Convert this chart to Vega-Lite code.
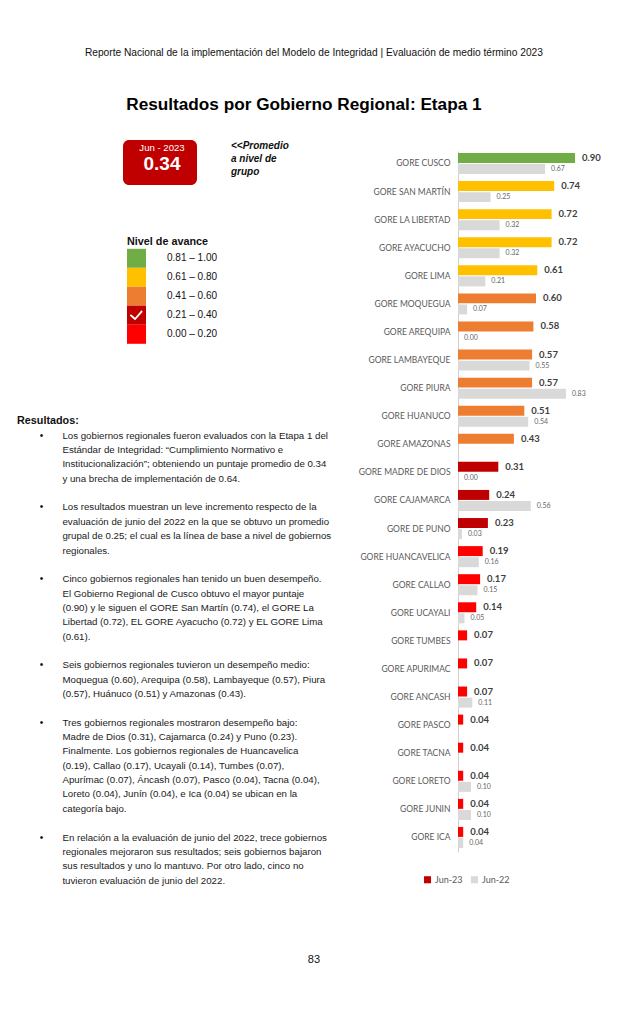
{
  "$schema": "https://vega.github.io/schema/vega-lite/v6.json",
  "background": "white",
  "padding": {"left": 17, "top": 47, "right": 0, "bottom": 0},
  "config": {"view": {"stroke": null}, "font": "Liberation Sans"},
  "datasets": {
    "gore": [
      {"gore": "GORE CUSCO", "serie": "Jun-23", "valor": 0.90, "nivel": "0.81 – 1.00"},
      {"gore": "GORE CUSCO", "serie": "Jun-22", "valor": 0.67},
      {"gore": "GORE SAN MARTÍN", "serie": "Jun-23", "valor": 0.74, "nivel": "0.61 – 0.80"},
      {"gore": "GORE SAN MARTÍN", "serie": "Jun-22", "valor": 0.25},
      {"gore": "GORE LA LIBERTAD", "serie": "Jun-23", "valor": 0.72, "nivel": "0.61 – 0.80"},
      {"gore": "GORE LA LIBERTAD", "serie": "Jun-22", "valor": 0.32},
      {"gore": "GORE AYACUCHO", "serie": "Jun-23", "valor": 0.72, "nivel": "0.61 – 0.80"},
      {"gore": "GORE AYACUCHO", "serie": "Jun-22", "valor": 0.32},
      {"gore": "GORE LIMA", "serie": "Jun-23", "valor": 0.61, "nivel": "0.61 – 0.80"},
      {"gore": "GORE LIMA", "serie": "Jun-22", "valor": 0.21},
      {"gore": "GORE MOQUEGUA", "serie": "Jun-23", "valor": 0.60, "nivel": "0.41 – 0.60"},
      {"gore": "GORE MOQUEGUA", "serie": "Jun-22", "valor": 0.07},
      {"gore": "GORE AREQUIPA", "serie": "Jun-23", "valor": 0.58, "nivel": "0.41 – 0.60"},
      {"gore": "GORE AREQUIPA", "serie": "Jun-22", "valor": 0.00},
      {"gore": "GORE LAMBAYEQUE", "serie": "Jun-23", "valor": 0.57, "nivel": "0.41 – 0.60"},
      {"gore": "GORE LAMBAYEQUE", "serie": "Jun-22", "valor": 0.55},
      {"gore": "GORE PIURA", "serie": "Jun-23", "valor": 0.57, "nivel": "0.41 – 0.60"},
      {"gore": "GORE PIURA", "serie": "Jun-22", "valor": 0.83},
      {"gore": "GORE HUANUCO", "serie": "Jun-23", "valor": 0.51, "nivel": "0.41 – 0.60"},
      {"gore": "GORE HUANUCO", "serie": "Jun-22", "valor": 0.54},
      {"gore": "GORE AMAZONAS", "serie": "Jun-23", "valor": 0.43, "nivel": "0.41 – 0.60"},
      {"gore": "GORE MADRE DE DIOS", "serie": "Jun-23", "valor": 0.31, "nivel": "0.21 – 0.40"},
      {"gore": "GORE MADRE DE DIOS", "serie": "Jun-22", "valor": 0.00},
      {"gore": "GORE CAJAMARCA", "serie": "Jun-23", "valor": 0.24, "nivel": "0.21 – 0.40"},
      {"gore": "GORE CAJAMARCA", "serie": "Jun-22", "valor": 0.56},
      {"gore": "GORE DE PUNO", "serie": "Jun-23", "valor": 0.23, "nivel": "0.21 – 0.40"},
      {"gore": "GORE DE PUNO", "serie": "Jun-22", "valor": 0.03},
      {"gore": "GORE HUANCAVELICA", "serie": "Jun-23", "valor": 0.19, "nivel": "0.00 – 0.20"},
      {"gore": "GORE HUANCAVELICA", "serie": "Jun-22", "valor": 0.16},
      {"gore": "GORE CALLAO", "serie": "Jun-23", "valor": 0.17, "nivel": "0.00 – 0.20"},
      {"gore": "GORE CALLAO", "serie": "Jun-22", "valor": 0.15},
      {"gore": "GORE UCAYALI", "serie": "Jun-23", "valor": 0.14, "nivel": "0.00 – 0.20"},
      {"gore": "GORE UCAYALI", "serie": "Jun-22", "valor": 0.05},
      {"gore": "GORE TUMBES", "serie": "Jun-23", "valor": 0.07, "nivel": "0.00 – 0.20"},
      {"gore": "GORE APURIMAC", "serie": "Jun-23", "valor": 0.07, "nivel": "0.00 – 0.20"},
      {"gore": "GORE ANCASH", "serie": "Jun-23", "valor": 0.07, "nivel": "0.00 – 0.20"},
      {"gore": "GORE ANCASH", "serie": "Jun-22", "valor": 0.11},
      {"gore": "GORE PASCO", "serie": "Jun-23", "valor": 0.04, "nivel": "0.00 – 0.20"},
      {"gore": "GORE TACNA", "serie": "Jun-23", "valor": 0.04, "nivel": "0.00 – 0.20"},
      {"gore": "GORE LORETO", "serie": "Jun-23", "valor": 0.04, "nivel": "0.00 – 0.20"},
      {"gore": "GORE LORETO", "serie": "Jun-22", "valor": 0.10},
      {"gore": "GORE JUNIN", "serie": "Jun-23", "valor": 0.04, "nivel": "0.00 – 0.20"},
      {"gore": "GORE JUNIN", "serie": "Jun-22", "valor": 0.10},
      {"gore": "GORE ICA", "serie": "Jun-23", "valor": 0.04, "nivel": "0.00 – 0.20"},
      {"gore": "GORE ICA", "serie": "Jun-22", "valor": 0.04}
    ],
    "caja": [
      {"linea": 0, "texto": "Jun - 2023"},
      {"linea": 1, "texto": "0.34"}
    ],
    "promedio": [
      {"linea": 0, "sangria": 0, "texto": "<<Promedio"},
      {"linea": 1, "sangria": 0, "texto": "a nivel de"},
      {"linea": 2, "sangria": 0, "texto": "grupo"}
    ],
    "texto": [
      {"linea": -1, "sangria": 0, "tipo": "titulo", "texto": "Resultados:"},
      {"linea": 0, "sangria": 1, "tipo": "vineta", "texto": "•"},
      {"linea": 0, "sangria": 2, "tipo": "cuerpo", "texto": "Los gobiernos regionales fueron evaluados con la Etapa 1 del"},
      {"linea": 1, "sangria": 2, "tipo": "cuerpo", "texto": "Estándar de Integridad: “Cumplimiento Normativo e"},
      {"linea": 2, "sangria": 2, "tipo": "cuerpo", "texto": "Institucionalización”; obteniendo un puntaje promedio de 0.34"},
      {"linea": 3, "sangria": 2, "tipo": "cuerpo", "texto": "y una brecha de implementación de 0.64."},
      {"linea": 5, "sangria": 1, "tipo": "vineta", "texto": "•"},
      {"linea": 5, "sangria": 2, "tipo": "cuerpo", "texto": "Los resultados muestran un leve incremento respecto de la"},
      {"linea": 6, "sangria": 2, "tipo": "cuerpo", "texto": "evaluación de junio del 2022 en la que se obtuvo un promedio"},
      {"linea": 7, "sangria": 2, "tipo": "cuerpo", "texto": "grupal de 0.25; el cual es la línea de base a nivel de gobiernos"},
      {"linea": 8, "sangria": 2, "tipo": "cuerpo", "texto": "regionales."},
      {"linea": 10, "sangria": 1, "tipo": "vineta", "texto": "•"},
      {"linea": 10, "sangria": 2, "tipo": "cuerpo", "texto": "Cinco gobiernos regionales han tenido un buen desempeño."},
      {"linea": 11, "sangria": 2, "tipo": "cuerpo", "texto": "El Gobierno Regional de Cusco obtuvo el mayor puntaje"},
      {"linea": 12, "sangria": 2, "tipo": "cuerpo", "texto": "(0.90) y le siguen el GORE San Martín (0.74), el GORE La"},
      {"linea": 13, "sangria": 2, "tipo": "cuerpo", "texto": "Libertad (0.72), EL GORE Ayacucho (0.72) y EL GORE Lima"},
      {"linea": 14, "sangria": 2, "tipo": "cuerpo", "texto": "(0.61)."},
      {"linea": 16, "sangria": 1, "tipo": "vineta", "texto": "•"},
      {"linea": 16, "sangria": 2, "tipo": "cuerpo", "texto": "Seis gobiernos regionales tuvieron un desempeño medio:"},
      {"linea": 17, "sangria": 2, "tipo": "cuerpo", "texto": "Moquegua (0.60), Arequipa (0.58), Lambayeque (0.57), Piura"},
      {"linea": 18, "sangria": 2, "tipo": "cuerpo", "texto": "(0.57), Huánuco (0.51) y Amazonas (0.43)."},
      {"linea": 20, "sangria": 1, "tipo": "vineta", "texto": "•"},
      {"linea": 20, "sangria": 2, "tipo": "cuerpo", "texto": "Tres gobiernos regionales mostraron desempeño bajo:"},
      {"linea": 21, "sangria": 2, "tipo": "cuerpo", "texto": "Madre de Dios (0.31), Cajamarca (0.24) y Puno (0.23)."},
      {"linea": 22, "sangria": 2, "tipo": "cuerpo", "texto": "Finalmente. Los gobiernos regionales de Huancavelica"},
      {"linea": 23, "sangria": 2, "tipo": "cuerpo", "texto": "(0.19), Callao (0.17), Ucayali (0.14), Tumbes (0.07),"},
      {"linea": 24, "sangria": 2, "tipo": "cuerpo", "texto": "Apurímac (0.07), Áncash (0.07), Pasco (0.04), Tacna (0.04),"},
      {"linea": 25, "sangria": 2, "tipo": "cuerpo", "texto": "Loreto (0.04), Junín (0.04), e Ica (0.04) se ubican en la"},
      {"linea": 26, "sangria": 2, "tipo": "cuerpo", "texto": "categoría bajo."},
      {"linea": 28, "sangria": 1, "tipo": "vineta", "texto": "•"},
      {"linea": 28, "sangria": 2, "tipo": "cuerpo", "texto": "En relación a la evaluación de junio del 2022, trece gobiernos"},
      {"linea": 29, "sangria": 2, "tipo": "cuerpo", "texto": "regionales mejoraron sus resultados; seis gobiernos bajaron"},
      {"linea": 30, "sangria": 2, "tipo": "cuerpo", "texto": "sus resultados y uno lo mantuvo. Por otro lado, cinco no"},
      {"linea": 31, "sangria": 2, "tipo": "cuerpo", "texto": "tuvieron evaluación de junio del 2022."}
    ]
  },
  "title": {
    "text": "Reporte Nacional de la implementación del Modelo de Integridad   |   Evaluación de medio término 2023",
    "frame": "bounds",
    "font": "Liberation Sans",
    "fontSize": 10.2,
    "fontWeight": "normal",
    "color": "#111111",
    "anchor": "middle",
    "dx": 5,
    "offset": 38
  },
  "vconcat": [
    {
      "title": {
        "text": "Resultados por Gobierno Regional: Etapa 1",
        "frame": "bounds",
        "font": "Liberation Sans",
        "fontSize": 17.2,
        "fontWeight": "bold",
        "color": "#000000",
        "anchor": "middle",
        "dx": -5,
        "offset": 27
      },
      "vconcat": [
        {
          "title": {
            "text": "83",
            "frame": "bounds",
            "orient": "bottom",
            "font": "Liberation Sans",
            "fontSize": 11,
            "fontWeight": "normal",
            "color": "#111111",
            "anchor": "middle",
            "dx": 5,
            "offset": 59
          },
          "spacing": 6,
          "hconcat": [
            {
              "spacing": 222,
              "vconcat": [
                {
                  "spacing": 34,
                  "hconcat": [
                    {
                      "width": 72,
                      "height": 45,
                      "data": {"values": [{"vacio": ""}]},
                      "mark": {"type": "text"},
                      "encoding": {"text": {"field": "vacio"}}
                    },
                    {
                      "width": 74,
                      "height": 45,
                      "view": {"fill": "#c00000", "cornerRadius": 6, "stroke": null},
                      "data": {"name": "caja"},
                      "encoding": {
                        "y": {"field": "linea", "type": "quantitative", "scale": {"domain": [-0.5, 2.3125], "reverse": true, "nice": false, "zero": false}, "axis": null},
                        "text": {"field": "texto"}
                      },
                      "layer": [
                        {
                          "transform": [{"filter": "datum.linea === 0"}],
                          "mark": {"type": "text", "color": "#ffffff", "fontSize": 9.6, "font": "Liberation Sans", "dx": 2}
                        },
                        {
                          "transform": [{"filter": "datum.linea === 1"}],
                          "mark": {"type": "text", "color": "#ffffff", "fontSize": 19, "fontWeight": "bold", "font": "Liberation Sans", "dx": 2}
                        }
                      ]
                    },
                    {
                      "width": 70,
                      "height": 45,
                      "data": {"name": "promedio"},
                      "mark": {"type": "text", "align": "left", "fontSize": 10, "fontWeight": "bold", "fontStyle": "italic", "font": "Liberation Sans", "color": "#111111"},
                      "encoding": {
                        "x": {"field": "sangria", "type": "quantitative", "scale": {"domain": [0, 1], "nice": false}, "axis": null},
                        "y": {"field": "linea", "type": "quantitative", "scale": {"domain": [-0.5, 3.05], "reverse": true, "nice": false, "zero": false}, "axis": null},
                        "text": {"field": "texto"}
                      }
                    }
                  ]
                },
                {
                  "width": 335,
                  "height": 487.9,
                  "data": {"name": "texto"},
                  "encoding": {
                    "x": {"field": "sangria", "type": "quantitative", "scale": {"domain": [0, 14.75], "nice": false}, "axis": null},
                    "y": {"field": "linea", "type": "quantitative", "scale": {"domain": [-2, 32], "reverse": true, "nice": false, "zero": false}, "axis": null},
                    "text": {"field": "texto"}
                  },
                  "layer": [
                    {
                      "transform": [{"filter": "datum.tipo === 'titulo'"}],
                      "mark": {"type": "text", "align": "left", "fontSize": 10.8, "fontWeight": "bold", "font": "Liberation Sans", "color": "#111111"}
                    },
                    {
                      "transform": [{"filter": "datum.tipo === 'vineta'"}],
                      "mark": {"type": "text", "align": "left", "fontSize": 10, "font": "Liberation Sans", "color": "#111111"}
                    },
                    {
                      "transform": [{"filter": "datum.tipo === 'cuerpo'"}],
                      "mark": {"type": "text", "align": "left", "fontSize": 9.7, "font": "Liberation Sans", "color": "#1a1a1a"}
                    }
                  ]
                }
              ]
            },
            {
              "width": 130,
              "height": 712,
              "data": {"name": "gore"},
              "encoding": {
                "y": {
                  "field": "gore",
                  "type": "nominal",
                  "sort": ["GORE CUSCO", "GORE SAN MARTÍN", "GORE LA LIBERTAD", "GORE AYACUCHO", "GORE LIMA", "GORE MOQUEGUA", "GORE AREQUIPA", "GORE LAMBAYEQUE", "GORE PIURA", "GORE HUANUCO", "GORE AMAZONAS", "GORE MADRE DE DIOS", "GORE CAJAMARCA", "GORE DE PUNO", "GORE HUANCAVELICA", "GORE CALLAO", "GORE UCAYALI", "GORE TUMBES", "GORE APURIMAC", "GORE ANCASH", "GORE PASCO", "GORE TACNA", "GORE LORETO", "GORE JUNIN", "GORE ICA"],
                  "scale": {"range": [11, 712], "paddingInner": 0.25, "paddingOuter": 0.106, "align": 0.33},
                  "axis": {"title": null, "ticks": false, "domainColor": "#d0d0d0", "domainWidth": 1, "labelColor": "#595959", "labelFont": "Lato", "labelFontSize": 8.5, "labelPadding": 8, "labelLimit": 200}
                },
                "yOffset": {"field": "serie", "type": "nominal", "scale": {"domain": ["Jun-23", "Jun-22"], "paddingInner": 0.1}},
                "x": {"field": "valor", "type": "quantitative", "scale": {"domain": [0, 1], "nice": false}, "axis": null}
              },
              "layer": [
                {
                  "transform": [{"filter": "datum.serie === 'Jun-23'"}],
                  "mark": {"type": "bar"},
                  "encoding": {
                    "color": {
                      "field": "nivel",
                      "type": "nominal",
                      "scale": {"domain": ["0.81 – 1.00", "0.61 – 0.80", "0.41 – 0.60", "0.21 – 0.40", "0.00 – 0.20"], "range": ["#70ad47", "#ffc000", "#ed7d31", "#c00000", "#ff0000"]},
                      "legend": {
                        "title": "Nivel de avance",
                        "orient": "none",
                        "legendX": 110,
                        "legendY": 96,
                        "symbolType": "square",
                        "symbolSize": 361,
                        "symbolStrokeWidth": 0,
                        "symbolOpacity": 1,
                        "rowPadding": 0,
                        "labelOffset": 21,
                        "labelFont": "Liberation Sans",
                        "labelFontSize": 10,
                        "labelColor": "#111111",
                        "titleFont": "Liberation Sans",
                        "titleFontSize": 10.8,
                        "titleFontWeight": "bold",
                        "titleColor": "#111111",
                        "titlePadding": 2,
                        "encode": {
                          "symbols": {
                            "update": {
                              "shape": {"signal": "datum.value === '0.21 – 0.40' ? 'M-1,-1H1V1H-1Z M-0.72,0.02 L-0.15,0.52 L0.66,-0.38 L0.52,-0.52 L-0.15,0.26 L-0.58,-0.12 Z' : 'square'"}
                            }
                          }
                        }
                      }
                    }
                  }
                },
                {
                  "transform": [{"filter": "datum.serie === 'Jun-22'"}],
                  "mark": {"type": "bar"},
                  "encoding": {
                    "fill": {
                      "field": "serie",
                      "type": "nominal",
                      "scale": {"domain": ["Jun-23", "Jun-22"], "range": ["#c00000", "#d9d9d9"]},
                      "legend": {
                        "title": null,
                        "orient": "none",
                        "direction": "horizontal",
                        "legendX": 406,
                        "legendY": 735,
                        "symbolType": "square",
                        "symbolSize": 50,
                        "symbolStrokeWidth": 0,
                        "symbolOpacity": 1,
                        "columnPadding": 7,
                        "labelOffset": 3,
                        "labelFont": "Lato",
                        "labelFontSize": 9,
                        "labelColor": "#595959"
                      }
                    }
                  }
                },
                {
                  "transform": [{"filter": "datum.serie === 'Jun-23'"}],
                  "mark": {"type": "text", "align": "left", "dx": 7, "fontWeight": "bold", "fontSize": 9.5, "font": "Lato", "color": "#404040"},
                  "encoding": {"text": {"field": "valor", "type": "quantitative", "format": ".2f"}}
                },
                {
                  "transform": [{"filter": "datum.serie === 'Jun-22'"}],
                  "mark": {"type": "text", "align": "left", "dx": 6, "fontSize": 7, "font": "Lato", "color": "#666666"},
                  "encoding": {"text": {"field": "valor", "type": "quantitative", "format": ".2f"}}
                }
              ]
            }
          ]
        }
      ]
    }
  ]
}
